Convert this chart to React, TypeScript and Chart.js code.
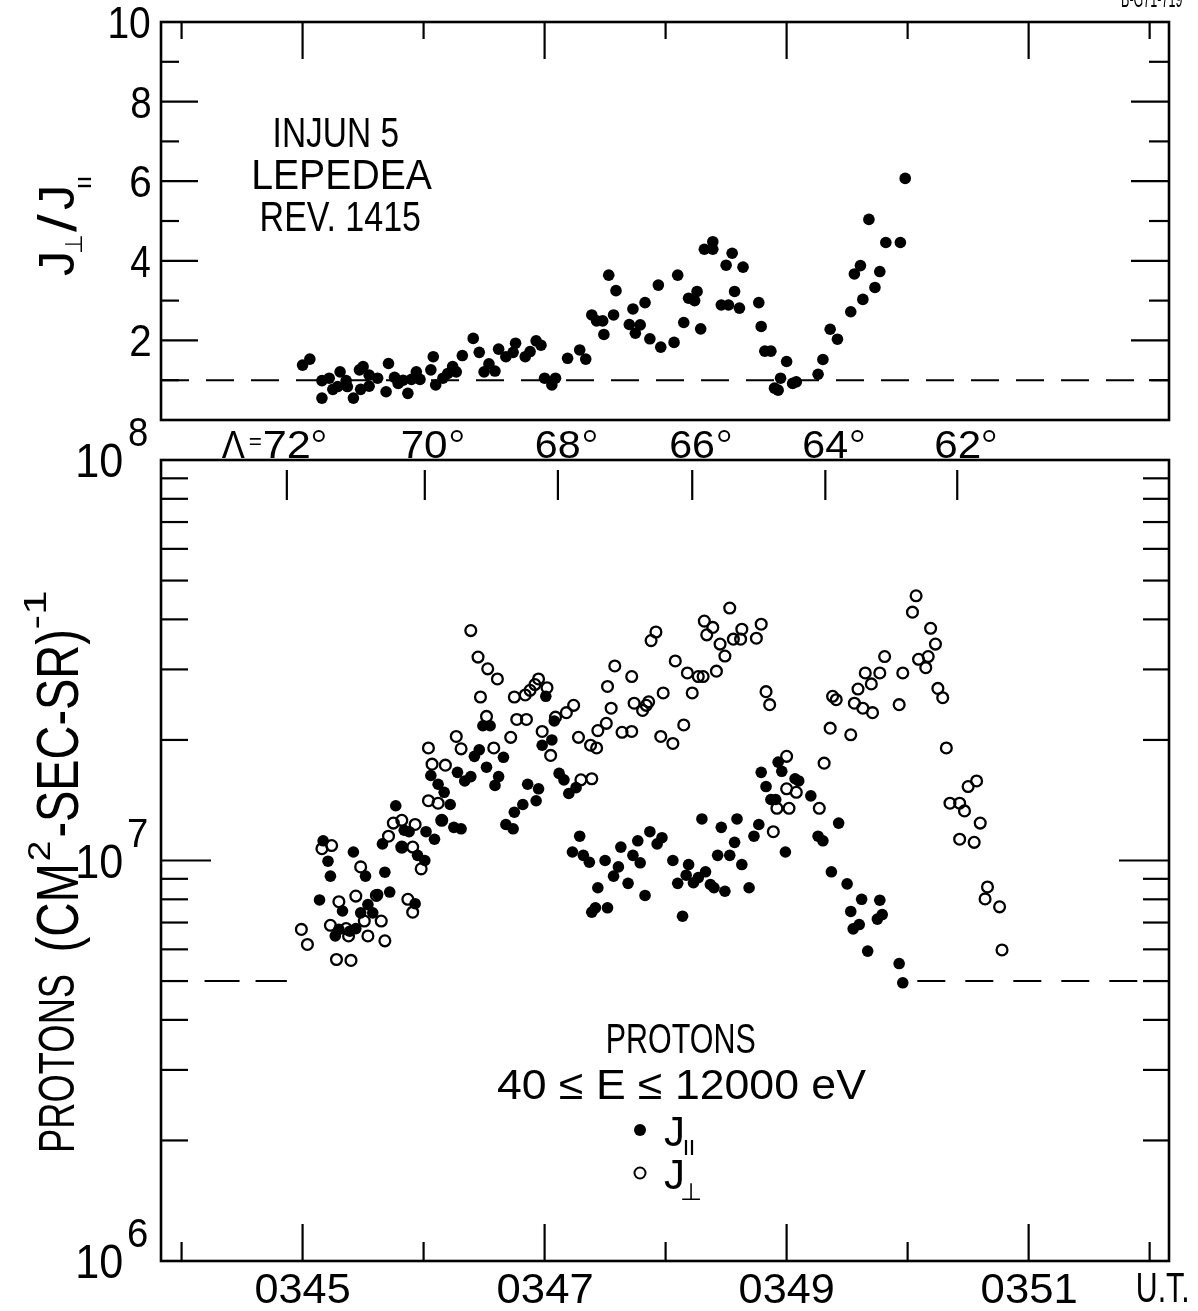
import React, { useEffect, useRef } from 'react';
import { Chart, registerables } from 'chart.js';
Chart.register(...registerables);

const FONT = "'Liberation Sans', Arial, sans-serif";
const NARROW = "'Liberation Sans Narrow', 'Liberation Sans', Arial, sans-serif";

// ---------------- data (time in minutes, e.g. 345.5 = 03:45:30 UT) ----------------
const ratioTime = [
  345.00, 345.06, 345.16, 345.16, 345.22, 345.25, 345.29, 345.31, 345.36, 345.37,
  345.42, 345.47, 345.48, 345.50, 345.55, 345.55, 345.62, 345.69, 345.71, 345.76,
  345.79, 345.83, 345.87, 345.90, 345.94, 345.97, 346.06, 346.08, 346.10, 346.16,
  346.20, 346.24, 346.27, 346.32, 346.41, 346.46, 346.50, 346.54, 346.59, 346.62,
  346.68, 346.74, 346.76, 346.84, 346.88, 346.93, 346.97, 347.00, 347.06, 347.09,
  347.19, 347.29, 347.34, 347.39, 347.43, 347.48, 347.49, 347.53, 347.57, 347.59,
  347.70, 347.73, 347.75, 347.79, 347.83, 347.87, 347.94, 347.96, 348.07, 348.10,
  348.15, 348.19, 348.24, 348.26, 348.29, 348.32, 348.39, 348.39, 348.46, 348.50,
  348.52, 348.55, 348.57, 348.61, 348.64, 348.77, 348.79, 348.82, 348.87, 348.90,
  348.93, 348.95, 349.00, 349.05, 349.08, 349.26, 349.30, 349.36, 349.42, 349.53,
  349.56, 349.61, 349.63, 349.68, 349.73, 349.77, 349.82, 349.94, 349.98,
];
const ratioValue = [
  1.38, 1.53, 0.99, 0.55, 1.05, 0.77, 0.84, 1.21, 0.99, 0.84,
  0.55, 1.26, 0.77, 1.34, 1.13, 0.85, 1.05, 0.71, 1.42, 1.07,
  0.92, 1.00, 0.67, 1.02, 1.21, 1.02, 1.26, 1.59, 0.88, 1.05,
  1.17, 1.34, 1.21, 1.62, 2.05, 1.70, 1.21, 1.41, 1.23, 1.78,
  1.59, 1.70, 1.93, 1.59, 1.72, 1.99, 1.88, 1.05, 0.88, 1.05,
  1.55, 1.76, 1.53, 2.64, 2.49, 2.49, 2.15, 3.64, 2.64, 3.25,
  2.40, 2.79, 2.18, 2.39, 2.95, 2.04, 3.39, 1.83, 1.95, 3.64,
  2.45, 3.06, 3.00, 3.23, 2.29, 4.29, 4.29, 4.48, 2.89, 3.89,
  2.89, 4.19, 3.23, 2.81, 3.84, 2.95, 2.35, 1.73, 1.73, 0.80,
  0.75, 1.05, 1.47, 0.92, 0.96, 1.15, 1.52, 2.28, 2.03, 2.72,
  3.67, 3.88, 3.03, 5.04, 3.33, 3.73, 4.46, 4.46, 6.07,
];

const jParTime = [
  345.14, 345.17, 345.21, 345.23, 345.27, 345.30, 345.33, 345.39, 345.44, 345.42,
  345.52, 345.48, 345.54, 345.58, 345.62, 345.68, 345.72, 345.66, 345.77, 345.84,
  345.88, 345.82, 345.95, 346.01, 345.93, 346.02, 346.09, 346.15, 346.25, 346.31,
  346.22, 346.06, 346.12, 346.17, 346.28, 346.34, 346.39, 346.42, 346.46, 346.49,
  346.55, 346.52, 346.66, 346.62, 346.59, 347.01, 346.98, 347.06, 346.86, 346.95,
  346.93, 346.82, 346.75, 346.68, 346.74, 347.12, 347.16, 347.08, 347.26, 347.20,
  347.29, 347.23, 347.32, 347.37, 347.44, 347.39, 347.42, 347.52, 347.50, 347.57,
  347.61, 347.63, 347.69, 347.73, 347.77, 347.79, 347.83, 347.87, 347.93, 347.97,
  348.06, 348.10, 348.14, 348.17, 348.19, 348.23, 348.27, 348.30, 348.33, 348.37,
  348.40, 348.43, 348.46, 348.49, 348.53, 348.57, 348.59, 348.63, 348.69, 348.73,
  348.77, 348.79, 348.83, 348.87, 348.91, 348.93, 348.96, 348.99, 349.07, 349.10,
  349.20, 349.26, 349.30, 349.43, 349.37, 349.50, 349.53, 349.62, 349.77, 349.55,
  349.60, 349.75, 349.79, 349.67, 349.93, 349.96,
];
const jParFlux = [
  7.97e6, 1.12e7, 9.96e6, 9.14e6, 6.48e6, 6.73e6, 7.48e6, 6.66e6, 6.76e6, 1.05e7,
  9.14e6, 7.40e6, 7.76e6, 7.40e6, 8.22e6, 9.35e6, 8.34e6, 1.10e7, 1.37e7, 1.19e7,
  1.18e7, 1.08e7, 1.03e7, 1.00e7, 7.80e6, 1.18e7, 1.13e7, 1.26e7, 1.21e7, 1.20e7,
  1.38e7, 1.63e7, 1.55e7, 1.48e7, 1.66e7, 1.58e7, 1.62e7, 1.82e7, 1.89e7, 2.17e7,
  2.17e7, 1.71e7, 1.81e7, 1.62e7, 1.54e7, 2.57e7, 1.94e7, 2.00e7, 1.55e7, 1.51e7,
  1.41e7, 1.38e7, 1.32e7, 1.23e7, 1.20e7, 1.65e7, 1.59e7, 2.23e7, 1.52e7, 1.47e7,
  1.15e7, 1.05e7, 1.03e7, 9.90e6, 8.55e6, 7.43e6, 7.62e6, 7.62e6, 1.00e7, 9.14e6,
  9.64e6, 1.08e7, 8.77e6, 1.03e7, 1.12e7, 9.87e6, 8.18e6, 1.18e7, 1.10e7, 1.14e7,
  1.00e7, 8.77e6, 7.26e6, 9.19e6, 9.77e6, 8.80e6, 9.06e6, 1.27e7, 9.37e6, 8.71e6,
  8.55e6, 1.03e7, 1.21e7, 8.38e6, 1.03e7, 1.11e7, 1.27e7, 9.77e6, 8.55e6, 1.15e7,
  1.23e7, 1.66e7, 1.53e7, 1.42e7, 1.42e7, 1.76e7, 1.67e7, 1.05e7, 1.60e7, 1.58e7,
  1.45e7, 1.15e7, 1.12e7, 1.24e7, 9.37e6, 8.74e6, 7.46e6, 8.00e6, 7.96e6, 6.75e6,
  6.92e6, 7.14e6, 7.33e6, 5.94e6, 5.53e6, 4.95e6,
];

const jPerpTime = [
  344.99, 345.04, 345.16, 345.24, 345.30, 345.23, 345.36, 345.38, 345.28, 345.40,
  345.48, 345.44, 345.51, 345.54, 345.61, 345.65, 345.68, 345.71, 345.75, 345.82,
  345.93, 345.82, 345.91, 345.98, 345.87, 345.91, 346.15, 346.04, 346.12, 346.07,
  346.04, 346.18, 346.27, 346.31, 346.39, 346.45, 346.53, 346.61, 346.47, 346.52,
  346.58, 346.72, 346.75, 346.77, 346.85, 346.84, 346.88, 346.92, 346.95, 347.02,
  346.98, 347.05, 347.09, 347.18, 347.24, 347.28, 347.30, 347.39, 347.38, 347.43,
  347.44, 347.51, 347.55, 347.52, 347.58, 347.64, 347.72, 347.72, 347.74, 347.81,
  347.84, 347.86, 347.88, 347.92, 347.98, 347.96, 348.06, 348.08, 348.15, 348.18,
  348.22, 348.27, 348.31, 348.32, 348.39, 348.34, 348.42, 348.45, 348.49, 348.53,
  348.56, 348.63, 348.62, 348.75, 348.79, 348.83, 348.86, 349.00, 349.00, 349.08,
  349.02, 348.92, 348.89, 349.27, 349.31, 349.36, 349.38, 349.41, 349.53, 349.56,
  349.59, 349.63, 349.65, 349.70, 349.71, 349.77, 349.81, 349.93, 349.96, 350.04,
  350.07, 350.09, 350.15, 350.17, 350.19, 350.23, 350.25, 350.29, 350.32, 350.50,
  350.57, 350.35, 350.43, 350.47, 350.60, 350.43, 350.55, 350.66, 350.64, 350.76,
  350.78,
];
const jPerpFlux = [
  6.73e6, 6.17e6, 1.07e7, 1.09e7, 7.89e6, 6.89e6, 6.76e6, 6.48e6, 5.66e6, 5.63e6,
  9.64e6, 8.15e6, 7.06e6, 6.48e6, 8.18e6, 7.06e6, 6.30e6, 1.15e7, 1.24e7, 1.26e7,
  1.23e7, 1.08e7, 1.08e7, 9.53e6, 8.00e6, 7.43e6, 1.26e7, 1.41e7, 1.39e7, 1.74e7,
  1.91e7, 1.73e7, 2.04e7, 1.90e7, 3.75e7, 3.22e7, 3.01e7, 2.84e7, 2.56e7, 2.29e7,
  1.91e7, 2.03e7, 2.56e7, 2.25e7, 2.25e7, 2.59e7, 2.66e7, 2.75e7, 2.84e7, 2.70e7,
  2.10e7, 1.83e7, 2.28e7, 2.34e7, 2.44e7, 2.03e7, 1.59e7, 1.60e7, 1.94e7, 1.91e7,
  2.11e7, 2.20e7, 2.40e7, 2.72e7, 3.06e7, 2.09e7, 2.10e7, 2.88e7, 2.47e7, 2.37e7,
  2.44e7, 2.49e7, 3.54e7, 3.72e7, 2.62e7, 2.04e7, 1.96e7, 3.15e7, 2.18e7, 2.94e7,
  2.62e7, 2.88e7, 2.88e7, 3.96e7, 3.82e7, 3.66e7, 2.97e7, 3.47e7, 3.24e7, 4.27e7,
  3.57e7, 3.78e7, 3.57e7, 3.59e7, 3.89e7, 2.64e7, 2.45e7, 1.82e7, 1.51e7, 1.48e7,
  1.35e7, 1.35e7, 1.18e7, 1.35e7, 1.75e7, 2.14e7, 2.57e7, 2.52e7, 2.06e7, 2.47e7,
  2.68e7, 2.40e7, 2.94e7, 2.76e7, 2.34e7, 2.94e7, 3.23e7, 2.45e7, 2.94e7, 4.17e7,
  4.58e7, 3.18e7, 3.03e7, 3.23e7, 3.80e7, 3.47e7, 2.69e7, 2.55e7, 1.91e7, 1.53e7,
  1.58e7, 1.39e7, 1.39e7, 1.33e7, 1.24e7, 1.13e7, 1.11e7, 8.59e6, 8.02e6, 7.66e6,
  5.98e6,
];

// ---------------- axes / reference values ----------------
const timeRange = [343.83, 352.16];
const timeMajor = [345, 347, 349, 351];
const timeMinor = [344, 346, 348, 350, 352];
const timeTickLabels = ['0345', '0347', '0349', '0351'];
const ratioRange = [0, 10];
const ratioMajor = [2, 4, 6, 8, 10];
const ratioMinor = [1, 3, 5, 7, 9];
const ratioTickLabels = ['2', '4', '6', '8', '10'];
const fluxRange = [1e6, 1e8];
const fluxDecades = [1e6, 1e7, 1e8];
const fluxExponents = ['6', '7', '8'];
const fluxMinor = [2e6, 3e6, 4e6, 5e6, 6e6, 7e6, 8e6, 9e6, 2e7, 3e7, 4e7, 5e7, 6e7, 7e7, 8e7, 9e7];
const latTickTime = [344.87, 346.01, 347.11, 348.22, 349.32, 350.41];
const latTickLabels = ['72', '70', '68', '66', '64', '62'];
const ratioRefLevel = 1;
const fluxRefLevel = 5e6;
const fluxRefLeft = [344.19, 344.87];
const fluxRefRight = [350.08, 352.16];

// ---------------- text helpers ----------------
function fitBox(ctx: CanvasRenderingContext2D, text: string, left: number, right: number, top: number, bottom: number, family = NARROW, capRatio = 0.716) {
  const size = (bottom - top) / capRatio;
  ctx.font = `${size}px ${family}`;
  ctx.textAlign = 'left';
  ctx.textBaseline = 'alphabetic';
  const m = ctx.measureText(text);
  const inkW = m.actualBoundingBoxLeft + m.actualBoundingBoxRight;
  const sx = (right - left) / inkW;
  ctx.save();
  ctx.translate(left, bottom);
  ctx.scale(sx, 1);
  ctx.fillText(text, m.actualBoundingBoxLeft, 0);
  ctx.restore();
}

function seg(ctx: CanvasRenderingContext2D, x1: number, y1: number, x2: number, y2: number) {
  ctx.beginPath();
  ctx.moveTo(x1, y1);
  ctx.lineTo(x2, y2);
  ctx.stroke();
}

// ---------------- decorations ----------------
const topDecor = {
  id: 'topDecor',
  afterDraw(chart: any) {
    const { ctx, chartArea: a, scales } = chart;
    const x = scales.x, y = scales.y;
    ctx.save();
    ctx.strokeStyle = '#000';
    ctx.fillStyle = '#000';
    ctx.lineWidth = 2.6;
    ctx.strokeRect(a.left, a.top, a.right - a.left, a.bottom - a.top);
    ctx.lineWidth = 2.2;
    ratioMajor.forEach((v) => {
      const py = y.getPixelForValue(v);
      seg(ctx, a.left, py, a.left + 37, py);
      seg(ctx, a.right - 38, py, a.right, py);
    });
    ratioMinor.forEach((v) => {
      const py = y.getPixelForValue(v);
      seg(ctx, a.left, py, a.left + 18, py);
      seg(ctx, a.right - 20, py, a.right, py);
    });
    timeMajor.forEach((t) => {
      const px = x.getPixelForValue(t);
      seg(ctx, px, a.top, px, a.top + 37);
    });
    timeMinor.forEach((t) => {
      const px = x.getPixelForValue(t);
      seg(ctx, px, a.top, px, a.top + 17);
    });
    ratioMajor.forEach((v, i) => {
      const py = y.getPixelForValue(v);
      const txt = ratioTickLabels[i];
      const w = txt.length > 1 ? 40 : 19;
      fitBox(ctx, txt, 150 - w, 150, py - 16, py + 16);
    });
    // panel text
    fitBox(ctx, 'INJUN 5', 275, 398, 117, 147);
    fitBox(ctx, 'LEPEDEA', 254, 432, 159, 189);
    fitBox(ctx, 'REV. 1415', 262, 420, 201, 231);
    // corner id (cut by the page top)
    fitBox(ctx, 'B-G71-719', 1122, 1182, -12, 7, FONT);
    // rotated y title J_perp / J_par
    ctx.save();
    ctx.rotate(-Math.PI / 2);
    // local u = -screenY, v = screenX
    fitBox(ctx, 'J', -276, -254, 38, 74);
    fitBox(ctx, '⊥', -252, -236, 66, 82, FONT, 0.68);
    fitBox(ctx, '/', -232, -214, 38, 76);
    fitBox(ctx, 'J', -210, -188, 38, 74);
    ctx.lineWidth = 2.4;
    seg(ctx, -186, 78, -186, 91);
    seg(ctx, -179, 78, -179, 91);
    ctx.restore();
    ctx.restore();
  },
};

const bottomDecor = {
  id: 'bottomDecor',
  afterDraw(chart: any) {
    const { ctx, chartArea: a, scales } = chart;
    const x = scales.x, y = scales.y;
    ctx.save();
    ctx.strokeStyle = '#000';
    ctx.fillStyle = '#000';
    ctx.lineWidth = 2.6;
    ctx.strokeRect(a.left, a.top, a.right - a.left, a.bottom - a.top);
    ctx.lineWidth = 2.2;
    fluxDecades.forEach((v) => {
      const py = y.getPixelForValue(v);
      seg(ctx, a.left, py, a.left + 50, py);
      seg(ctx, a.right - 50, py, a.right, py);
    });
    fluxMinor.forEach((v) => {
      const py = y.getPixelForValue(v);
      seg(ctx, a.left, py, a.left + 27, py);
      seg(ctx, a.right - 26, py, a.right, py);
    });
    timeMajor.forEach((t) => {
      const px = x.getPixelForValue(t);
      seg(ctx, px, a.bottom, px, a.bottom - 37);
    });
    timeMinor.forEach((t) => {
      const px = x.getPixelForValue(t);
      seg(ctx, px, a.bottom, px, a.bottom - 19);
    });
    // time labels
    timeMajor.forEach((t, i) => {
      const px = x.getPixelForValue(t);
      fitBox(ctx, timeTickLabels[i], px - 47, px + 47, 1272, 1303);
    });
    fitBox(ctx, 'U.T.', 1138, 1187, 1272, 1302);
    // decade labels
    fluxDecades.forEach((v, i) => {
      const py = y.getPixelForValue(v);
      fitBox(ctx, '10', 78, 122, py - 17, py + 17);
      fitBox(ctx, fluxExponents[i], 129, 147, py - 43, py - 14);
    });
    // invariant latitude scale
    latTickTime.forEach((t, i) => {
      const px = x.getPixelForValue(t);
      seg(ctx, px, 470, px, 500);
      fitBox(ctx, latTickLabels[i], px - 22, px + 22, 430, 458);
      ctx.lineWidth = 2;
      ctx.beginPath();
      ctx.arc(px + 32, 436, 5, 0, Math.PI * 2);
      ctx.stroke();
      ctx.lineWidth = 2.2;
    });
    const p0 = x.getPixelForValue(latTickTime[0]);
    fitBox(ctx, 'Λ', p0 - 65, p0 - 42, 430, 458, FONT);
    fitBox(ctx, '=', p0 - 37, p0 - 25, 440, 449, FONT, 0.4);
    // legend
    fitBox(ctx, 'PROTONS', 608, 755, 1023, 1053);
    fitBox(ctx, '40 ≤ E ≤ 12000 eV', 497, 866, 1069, 1099);
    ctx.beginPath();
    ctx.arc(640, 1130, 6, 0, Math.PI * 2);
    ctx.fill();
    ctx.lineWidth = 2;
    ctx.beginPath();
    ctx.arc(640, 1173, 5.5, 0, Math.PI * 2);
    ctx.stroke();
    fitBox(ctx, 'J', 664, 682, 1116, 1146);
    ctx.lineWidth = 2.2;
    seg(ctx, 686, 1140, 686, 1155);
    seg(ctx, 692, 1140, 692, 1155);
    fitBox(ctx, 'J', 664, 682, 1159, 1189);
    fitBox(ctx, '⊥', 682, 700, 1184, 1200, FONT, 0.68);
    // rotated y title
    ctx.save();
    ctx.rotate(-Math.PI / 2);
    fitBox(ctx, 'PROTONS', -1150, -975, 38, 74);
    fitBox(ctx, '(CM', -950, -866, 36, 78);
    fitBox(ctx, '2', -860, -842, 28, 50, FONT);
    fitBox(ctx, '-SEC-SR)', -836, -632, 36, 78);
    fitBox(ctx, '-1', -628, -592, 24, 46, FONT);
    ctx.restore();
    ctx.restore();
  },
};

function baseOptions(yScale: any, pad: any) {
  return {
    animation: false,
    responsive: false,
    devicePixelRatio: 1,
    events: [],
    layout: { padding: pad },
    plugins: { legend: { display: false }, tooltip: { enabled: false } },
    scales: {
      x: { type: 'linear', min: timeRange[0], max: timeRange[1], display: false },
      y: yScale,
    },
  };
}

export default function App() {
  const topRef = useRef<HTMLCanvasElement>(null);
  const botRef = useRef<HTMLCanvasElement>(null);

  useEffect(() => {
    const top = new Chart(topRef.current as HTMLCanvasElement, {
      type: 'scatter',
      data: {
        datasets: [
          {
            label: 'J⊥/J∥',
            data: ratioTime.map((t, i) => ({ x: t, y: ratioValue[i] })),
            pointRadius: 5.8,
            pointBackgroundColor: '#000',
            pointBorderColor: '#000',
            pointBorderWidth: 0,
          },
          {
            label: 'isotropy',
            data: [{ x: timeRange[0], y: ratioRefLevel }, { x: timeRange[1], y: ratioRefLevel }],
            showLine: true,
            borderColor: '#000',
            borderWidth: 2,
            borderDash: [28, 17],
            pointRadius: 0,
          },
        ],
      },
      options: baseOptions({ type: 'linear', min: ratioRange[0], max: ratioRange[1], display: false }, { left: 161, top: 22, right: 29, bottom: 891 }) as any,
      plugins: [topDecor],
    });

    const bot = new Chart(botRef.current as HTMLCanvasElement, {
      type: 'scatter',
      data: {
        datasets: [
          {
            label: 'J∥',
            data: jParTime.map((t, i) => ({ x: t, y: jParFlux[i] })),
            pointRadius: 5.8,
            pointBackgroundColor: '#000',
            pointBorderColor: '#000',
            pointBorderWidth: 0,
          },
          {
            label: 'J⊥',
            data: jPerpTime.map((t, i) => ({ x: t, y: jPerpFlux[i] })),
            pointRadius: 5.4,
            pointBackgroundColor: 'rgba(0,0,0,0)',
            pointBorderColor: '#000',
            pointBorderWidth: 2.3,
          },
          {
            label: 'background left',
            data: fluxRefLeft.map((t) => ({ x: t, y: fluxRefLevel })),
            showLine: true,
            borderColor: '#000',
            borderWidth: 2,
            borderDash: [35, 16],
            pointRadius: 0,
          },
          {
            label: 'background right',
            data: fluxRefRight.map((t) => ({ x: t, y: fluxRefLevel })),
            showLine: true,
            borderColor: '#000',
            borderWidth: 2,
            borderDash: [28, 20],
            pointRadius: 0,
          },
        ],
      },
      options: baseOptions({ type: 'logarithmic', min: fluxRange[0], max: fluxRange[1], display: false }, { left: 161, top: 460, right: 29, bottom: 50 }) as any,
      plugins: [bottomDecor],
    });

    return () => {
      top.destroy();
      bot.destroy();
    };
  }, []);

  const cs: React.CSSProperties = { position: 'absolute', left: 0, top: 0 };
  return (
    <div style={{ position: 'absolute', left: 0, top: 0, width: 1198, height: 1311, background: '#fff' }}>
      <canvas ref={topRef} width={1198} height={1311} style={cs} />
      <canvas ref={botRef} width={1198} height={1311} style={cs} />
    </div>
  );
}
